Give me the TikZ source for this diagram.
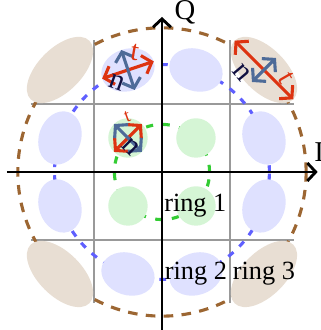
\documentclass[tikz,border=0pt]{standalone}
\usepackage{fontspec}
\setmainfont{Liberation Serif}
\usetikzlibrary{arrows.meta,shapes.geometric}
\definecolor{gridgray}{HTML}{999999}
\definecolor{gring}{HTML}{33CC33}
\definecolor{bring}{HTML}{5F5FFF}
\definecolor{rring}{HTML}{9C6632}
\definecolor{gfill}{HTML}{D5F5D5}
\definecolor{bfill}{HTML}{DFE1FF}
\definecolor{rfill}{HTML}{E8DED3}
\definecolor{tcol}{HTML}{DD3311}
\definecolor{ncol}{HTML}{4E6B98}
\definecolor{nlabcol}{HTML}{101040}
\begin{document}
\begin{tikzpicture}[
  font=\fontsize{11}{13}\selectfont,
  gridline/.style={draw=gridgray, line width=0.5pt},
  axisline/.style={line width=1.2pt, -{Straight Barb[length=3.5pt,width=7.5pt,line width=1.2pt]}},
  ringone/.style={draw=gring, line width=1.3pt, dash pattern=on 3pt off 4pt},
  ringtwo/.style={draw=bring, line width=1.3pt, dash pattern=on 2.8pt off 3.4pt},
  ringthree/.style={draw=rring, line width=1.3pt, dash pattern=on 4pt off 3.5pt},
  gdot/.style={circle, fill=gfill, inner sep=0pt, outer sep=0pt, minimum size=0.58cm},
  bell/.style={ellipse, fill=bfill, inner sep=0pt, outer sep=0pt, minimum width=0.8cm, minimum height=0.62cm},
  rell/.style={ellipse, fill=rfill, inner sep=0pt, outer sep=0pt, minimum width=1.22cm, minimum height=0.64cm},
  tarrow/.style={draw=tcol, line width=1.3pt, {Straight Barb[length=3.5pt,width=8pt]}-{Straight Barb[length=3.5pt,width=8pt]}},
  narrow/.style={draw=ncol, line width=1.3pt, {Straight Barb[length=3.5pt,width=8pt]}-{Straight Barb[length=3.5pt,width=8pt]}},
  tlab/.style={text=tcol, inner sep=0pt, font=\fontsize{12}{14}\selectfont},
  nlab/.style={text=nlabcol, inner sep=0pt, font=\fontsize{12.5}{14}\selectfont},
  ringlab/.style={inner sep=0pt}
]
\useasboundingbox (-2.382,-2.324) rectangle (2.338,2.529);
\coordinate (O) at (0,0);
% grid
\draw[gridline] (-1,-1.93) -- (-1,1.94);
\draw[gridline] (1,-1.93) -- (1,1.94);
\draw[gridline] (-1.93,1) -- (1.94,1);
\draw[gridline] (-1.93,-1) -- (1.94,-1);
% rings
\draw[ringone] (O) circle (0.7);
\draw[ringtwo] (O) circle (1.58);
\draw[ringthree] (O) circle (2.12);
% green points
\node[gdot, rotate=45] (g1) at (-0.5,0.5) {};
\node[gdot] (g2) at (0.5,0.5) {};
\node[gdot] (g3) at (-0.5,-0.5) {};
\node[gdot] (g4) at (0.5,-0.5) {};
% blue points
\foreach \x/\y/\nm in {-0.5/1.5/b1, 0.5/1.5/b2, 1.5/0.5/b3, 1.5/-0.5/b4, 0.5/-1.5/b5, -0.5/-1.5/b6, -1.5/-0.5/b7, -1.5/0.5/b8}{
  \pgfmathsetmacro{\ang}{atan2(\y,\x)-90}
  \node[bell, rotate=\ang] (\nm) at (\x,\y) {};
}
% brown points
\node[rell, rotate=-45] (r1) at (1.5,1.5) {};
\node[rell, rotate=45] (r2) at (-1.5,1.5) {};
\node[rell, rotate=-45] (r3) at (-1.5,-1.5) {};
\node[rell, rotate=45] (r4) at (1.5,-1.5) {};
% arrows
\draw[tarrow] (g1.west) -- (g1.east);
\draw[narrow] (g1.south) -- (g1.north);
\draw[tarrow] (b1.east) -- (b1.west);
\draw[narrow] (b1.south) -- (b1.north);
\draw[tarrow] (r1.west) -- (r1.east);
\draw[narrow, shorten <=2pt, shorten >=2pt] (r1.south) -- (r1.north);
% labels t, n
\node[tlab, font=\fontsize{8}{9}\selectfont, rotate=20] (tg) at (-0.51,0.81) {t};
\node[nlab, rotate=-45] (ng) at (-0.46,0.37) {n};
\node[tlab, rotate=-10] (tb) at (-0.40,1.76) {t};
\node[nlab, rotate=-20] (nb) at (-0.66,1.31) {n};
\node[tlab, rotate=-60] (tr) at (1.83,1.38) {t};
\node[nlab, rotate=-50] (nr) at (1.17,1.46) {n};
% axes
\coordinate (xl) at (-2.28,0);
\coordinate (xr) at (2.29,0);
\coordinate (yb) at (0,-2.33);
\coordinate (yt) at (0,2.28);
\draw[axisline] (xl) -- (xr);
\draw[axisline] (yb) -- (yt);
\node[inner sep=0pt, font=\fontsize{12}{14}\selectfont] (Q) at (0.34,2.35) {Q};
\node[inner sep=0pt, font=\fontsize{12}{14}\selectfont] (I) at (2.31,0.29) {I};
% ring labels
\node[ringlab] (l1) at (0.49,-0.49) {ring 1};
\node[ringlab] (l2) at (0.5,-1.49) {ring 2};
\node[ringlab] (l3) at (1.5,-1.49) {ring 3};
\end{tikzpicture}
\end{document}
